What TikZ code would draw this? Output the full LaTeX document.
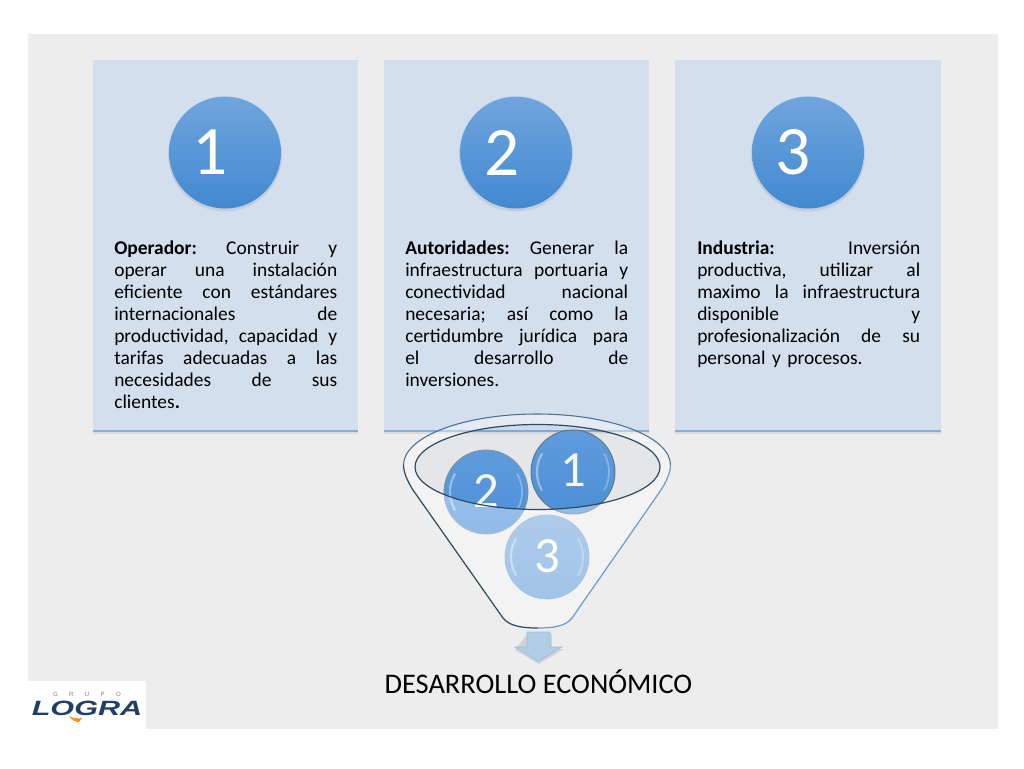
\documentclass[tikz,border=0pt]{standalone}
\usepackage{graphicx}
\usepackage{fontspec}
\setmainfont{Carlito}
\newfontfamily\logofont{Liberation Sans}
\newcommand\gapsp{\hspace{0.226em plus 1fil}}
\newcommand\jl[1]{\leavevmode\hbox to 167.25pt{\frenchspacing\spaceskip=0.226em plus 1fil\relax #1}\\}
\definecolor{pagegray}{HTML}{EDEDED}
\definecolor{cardblue}{HTML}{D4DFEE}
\definecolor{cardline}{HTML}{84ADD9}
\definecolor{balltop}{HTML}{70A5DE}
\definecolor{ballbot}{HTML}{4189D0}
\definecolor{mouthtop}{HTML}{62A0E2}
\definecolor{mouthbot}{HTML}{4E92DA}
\definecolor{logoblue}{HTML}{1F3F66}
\definecolor{rimdark}{HTML}{2E4A60}
\definecolor{rimblue}{HTML}{6A9CCB}
\definecolor{rimmid}{HTML}{4A7098}
\tikzset{
  x=0.75pt,y=-0.75pt,
  card/.style={fill=cardblue,draw=none},
  bigball/.style={circle,minimum size=84pt,inner sep=0pt,top color=balltop,bottom color=ballbot,text=white,font=\fontsize{52pt}{52pt}\selectfont},
  smallball/.style={circle,minimum size=63pt,inner sep=0pt,text=white,font=\fontsize{38pt}{38pt}\selectfont},
  cardtext/.style={anchor=north west,inner sep=0pt,text width=167.25pt,align=left,font=\fontsize{14.6pt}{16.5pt}\selectfont,text=black},
}
\begin{document}
\begin{tikzpicture}
\useasboundingbox (0,0) rectangle (1024,768);
\fill[white] (0,0) rectangle (1024,768);
\fill[pagegray] (28,34) rectangle (998,729);
\fill[white] (28,681) rectangle (146,729);

% cards
\foreach \xa/\xb/\nm in {93/358/a,384/649/b,675/941/c}{
  \fill[black,opacity=.07] (\xa,431) rectangle (\xb,434);
  \fill[card] (\xa,60) rectangle (\xb,431);
  \draw[cardline,line width=0.9pt] (\xa,431) -- (\xb,431);
}
% card badges
\foreach \cx in {225,516,808}{
  \fill[black,opacity=.08] (\cx,154.5) circle[radius=57];
}
\node[bigball] (n1) at (225,152.5) {\hspace{-22pt}1};
\node[bigball] (n2) at (516,152.5) {\hspace{-21pt}2};
\node[bigball] (n3) at (808,152.5) {\hspace{-22pt}3};

\node[cardtext] (t1) at (114,240.5) {\jl{\textbf{Operador:}\gapsp Construir y}\jl{operar una instalación}\jl{eficiente con estándares}\jl{internacionales de}\jl{productividad, capacidad y}\jl{tarifas adecuadas a las}\jl{necesidades de sus}clientes\textbf{.}};
\node[cardtext] (t2) at (405,240.5) {\jl{\textbf{Autoridades:}\gapsp Generar la}\jl{infraestructura portuaria y}\jl{conectividad nacional}\jl{necesaria; así como la}\jl{certidumbre jurídica para}\jl{el desarrollo de}inversiones.};
\node[cardtext] (t3) at (697,240.5) {\jl{\textbf{Industria:}\gapsp Inversión}\jl{productiva, utilizar al}\jl{maximo la infraestructura}\jl{disponible y}\jl{profesionalización de su}personal y procesos.};

% funnel balls
\node[smallball,draw=rimdark!75,line width=.7pt,top color=mouthtop,bottom color=mouthbot] (f1) at (573,472) {\raisebox{2pt}{1}};
\node[smallball,draw=rimdark!60,line width=.6pt,top color=mouthtop,bottom color=mouthbot] (f2) at (486,492) {\raisebox{2pt}{2}};
\node[smallball,draw=rimblue,line width=.5pt,top color=balltop!90!white,bottom color=ballbot!80!white] (f3) at (547,557) {\raisebox{2pt}{3}};
% highlights on balls
\foreach \cx/\cy in {573/472,486/492,547/557}{
  \draw[white,opacity=.42,line width=1.6pt,line cap=round] (\cx-31.2,\cy+18) arc[start angle=150,end angle=210,radius=36];
  \draw[white,opacity=.30,line width=1.4pt,line cap=round] (\cx+31.2,\cy-18) arc[start angle=-30,end angle=30,radius=36];
}

% funnel body, translucent, with the mouth left clear
\fill[white,opacity=.38,even odd rule]
  (403,465) .. controls (403,473) and (408,482) .. (413,490)
  -- (503,618) .. controls (512,630) and (563,630) .. (572,618)
  -- (661,490) .. controls (666,482) and (670,473) .. (670,465)
  arc[start angle=0,end angle=-180,x radius=133.5,y radius=51] -- cycle
  (660,467) arc[start angle=0,end angle=360,x radius=122.5,y radius=42.5];
% mouth tint
\fill[rimdark,opacity=.04] (537.5,467) ellipse[x radius=122.5,y radius=42.5];
% rim
\draw[rimmid,line width=.8pt] (537,465) ++(133.5,0) arc[start angle=0,end angle=-180,x radius=133.5,y radius=51];
\draw[rimdark,line width=.9pt] (403.5,465) .. controls (403.5,473) and (408,482) .. (413,490) -- (503,618) .. controls (510,627) and (525,628) .. (538,628);
\draw[rimblue,line width=.9pt] (538,628) .. controls (551,628) and (565,627) .. (572,618) -- (661,490) .. controls (666,482) and (670.5,473) .. (670.5,465);
\draw[rimdark,line width=.9pt] (537.5,467) ellipse[x radius=122.5,y radius=42.5];

% arrow
\fill[black,opacity=.10] (527,634) -- (552,634) -- (552,649) -- (564,649) -- (539,664) -- (515,650) -- cycle;
\draw[cardline!80!white,line width=.5pt,fill=cardline!62!white] (527,632) -- (550,632) -- (550,647) -- (562,647) -- (538,661.5) -- (515,647) -- (527,647) -- cycle;

\node[inner sep=0pt,font=\fontsize{21.3pt}{22pt}\selectfont,text=black] (result) at (538.5,682) {DESARROLLO ECONÓMICO};

% logo
\node[inner sep=0pt,font=\logofont\fontsize{4.6pt}{5pt}\selectfont,text=gray] (logotop) at (87,694) {G\hspace{8.5pt}R\hspace{8.5pt}U\hspace{8.5pt}P\hspace{8.5pt}O};
\node[inner sep=0pt,font=\logofont\bfseries\itshape\fontsize{15.5pt}{16pt}\selectfont,text=logoblue] (logoname) at (87,708) {\scalebox{1.48}[1]{LOGRA}};
\fill[orange!85!yellow] (69,716) .. controls (73,718) and (77,719) .. (82,718) -- (79,722) .. controls (75,722) and (72,720) .. (69,716) -- cycle;
\end{tikzpicture}
\end{document}
